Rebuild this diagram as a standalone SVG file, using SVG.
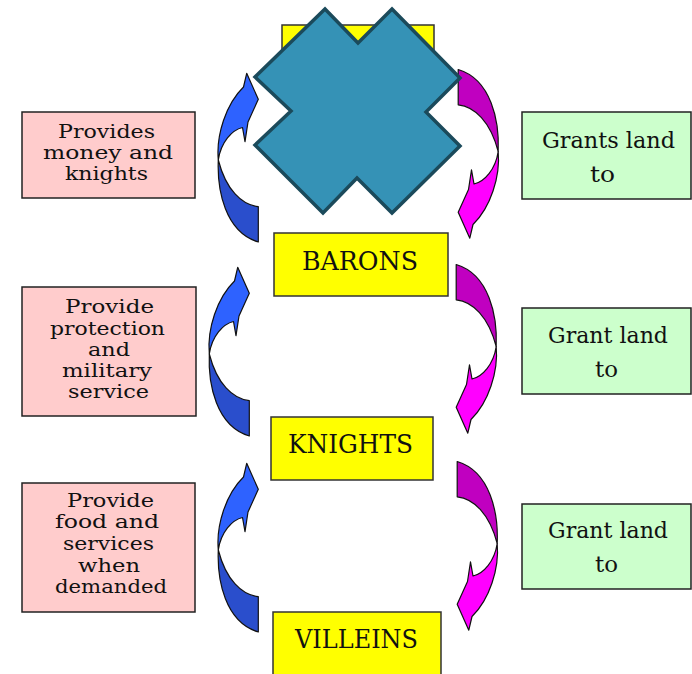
<svg xmlns="http://www.w3.org/2000/svg" xmlns:xlink="http://www.w3.org/1999/xlink" width="692" height="674" viewBox="0 0 692 674">
<style>
.yel{fill:#FFFF00;stroke:#333;stroke-width:1.5}
.pink{fill:#FFCCCC;stroke:#222;stroke-width:1.5}
.green{fill:#CCFFCC;stroke:#222;stroke-width:1.5}
.t{font-family:"DejaVu Serif","Liberation Serif",serif;fill:#111}
.big{font-size:26px}
.mid{font-size:18px}
.gr{font-size:23px}
.arr{stroke:#111;stroke-width:1.2;stroke-linejoin:round}
</style>
<defs>
<path id="head" d="M246.7,73.3 L258.3,99.3 L248,122 L245,141.7 L242.5,127.5 C232,130 221,142 218.3,160 C216,135 226,104 243.5,87 Z"/>
<path id="tail" d="M218.3,160 C217,190 225,232 258.3,242 L258.3,206.7 C242,205 226,190 218.3,160 Z"/>
</defs>
<rect class="yel" x="282" y="25" width="152" height="63"/>
<g id="connectors">
<g class="arr">
<use xlink:href="#tail" fill="#2A4ECC"/><use xlink:href="#head" fill="#2E62FF"/>
</g>
<g class="arr" transform="translate(-9,194)">
<use xlink:href="#tail" fill="#2A4ECC"/><use xlink:href="#head" fill="#2E62FF"/>
</g>
<g class="arr" transform="translate(0,390)">
<use xlink:href="#tail" fill="#2A4ECC"/><use xlink:href="#head" fill="#2E62FF"/>
</g>
<g class="arr" transform="translate(716.5,311.5) scale(-1,-1)">
<use xlink:href="#tail" fill="#C000C0"/><use xlink:href="#head" fill="#FF00FF"/>
</g>
<g class="arr" transform="translate(714.5,506.5) scale(-1,-1)">
<use xlink:href="#tail" fill="#C000C0"/><use xlink:href="#head" fill="#FF00FF"/>
</g>
<g class="arr" transform="translate(715.5,703.5) scale(-1,-1)">
<use xlink:href="#tail" fill="#C000C0"/><use xlink:href="#head" fill="#FF00FF"/>
</g>
</g>
<g id="barons">
<rect class="yel" x="274" y="233" width="174" height="63"/>
<text class="t big" x="302" y="270" textLength="116" lengthAdjust="spacingAndGlyphs">BARONS</text>
</g>
<g id="knights">
<rect class="yel" x="271" y="417" width="162" height="63"/>
<text class="t big" x="288" y="453" textLength="125" lengthAdjust="spacingAndGlyphs">KNIGHTS</text>
</g>
<g id="villeins">
<rect class="yel" x="273" y="612" width="168" height="63"/>
<text class="t big" x="295" y="648" textLength="123" lengthAdjust="spacingAndGlyphs">VILLEINS</text>
</g>
<g id="pink1">
<rect class="pink" x="22" y="112" width="173" height="86"/>
<text class="t mid" x="58" y="138" textLength="97" lengthAdjust="spacingAndGlyphs">Provides</text>
<text class="t mid" x="43" y="159" textLength="130" lengthAdjust="spacingAndGlyphs">money and</text>
<text class="t mid" x="65" y="180" textLength="83" lengthAdjust="spacingAndGlyphs">knights</text>
</g>
<g id="pink2">
<rect class="pink" x="22" y="287" width="174" height="129"/>
<text class="t mid" x="65" y="313" textLength="89" lengthAdjust="spacingAndGlyphs">Provide</text>
<text class="t mid" x="50" y="335" textLength="115" lengthAdjust="spacingAndGlyphs">protection</text>
<text class="t mid" x="88" y="356" textLength="42" lengthAdjust="spacingAndGlyphs">and</text>
<text class="t mid" x="62" y="377" textLength="90" lengthAdjust="spacingAndGlyphs">military</text>
<text class="t mid" x="68" y="398" textLength="81" lengthAdjust="spacingAndGlyphs">service</text>
</g>
<g id="pink3">
<rect class="pink" x="22" y="483" width="173" height="129"/>
<text class="t mid" x="67" y="507" textLength="87" lengthAdjust="spacingAndGlyphs">Provide</text>
<text class="t mid" x="55" y="528" textLength="104" lengthAdjust="spacingAndGlyphs">food and</text>
<text class="t mid" x="63" y="550" textLength="91" lengthAdjust="spacingAndGlyphs">services</text>
<text class="t mid" x="78" y="572" textLength="62" lengthAdjust="spacingAndGlyphs">when</text>
<text class="t mid" x="55" y="593" textLength="112" lengthAdjust="spacingAndGlyphs">demanded</text>
</g>
<g id="green1">
<rect class="green" x="522" y="112" width="169" height="87"/>
<text class="t gr" x="542" y="148" textLength="133" lengthAdjust="spacingAndGlyphs">Grants land</text>
<text class="t gr" x="590" y="182" textLength="25" lengthAdjust="spacingAndGlyphs">to</text>
</g>
<g id="green2">
<rect class="green" x="522" y="308" width="169" height="86"/>
<text class="t gr" x="548" y="343" textLength="120" lengthAdjust="spacingAndGlyphs">Grant land</text>
<text class="t gr" x="595" y="377" textLength="23" lengthAdjust="spacingAndGlyphs">to</text>
</g>
<g id="green3">
<rect class="green" x="522" y="504" width="169" height="85"/>
<text class="t gr" x="548" y="538" textLength="120" lengthAdjust="spacingAndGlyphs">Grant land</text>
<text class="t gr" x="595" y="572" textLength="23" lengthAdjust="spacingAndGlyphs">to</text>
</g>
<g id="cross">
<polygon points="325,9 358,43 392,9 460,78 426,112 460,146 392,213 357,178 323,213 255,145 291,111 255,77" fill="#3592B6" stroke="#1B4A5B" stroke-width="3.5" stroke-linejoin="miter"/>
</g>
</svg>
